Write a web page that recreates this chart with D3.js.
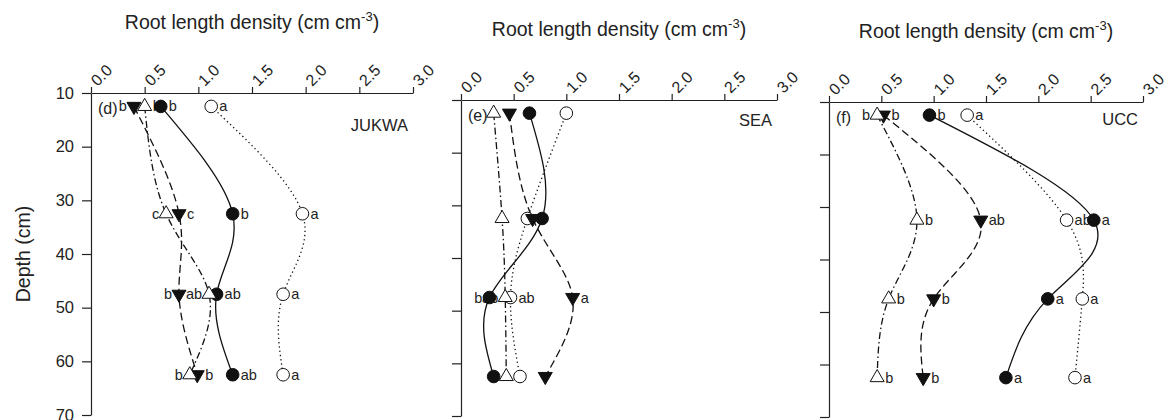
<!DOCTYPE html>
<html>
<head>
<meta charset="utf-8">
<script src="https://cdn.jsdelivr.net/npm/d3@7"></script>
<style>
  body { margin: 0; background: #fff; }
  svg text { font-family: "Liberation Sans", Arial, sans-serif; fill: #222; }
</style>
</head>
<body>
<svg id="grafico" width="1171" height="420"></svg>
<script>
// profundidades (cm) e eixos
const depths = [12.5, 32.5, 47.5, 62.5];
const xTicks = [0, 0.5, 1.0, 1.5, 2.0, 2.5, 3.0];
const yTicks = [10, 20, 30, 40, 50, 60, 70];
const sites = ["JUKWA", "SEA", "UCC"];
const panelTags = ["(d)", "(e)", "(f)"];

// JUKWA
const jukwaFilledCircle = [0.65, 1.32, 1.17, 1.32];
const jukwaOpenCircle   = [1.12, 1.97, 1.79, 1.79];
const jukwaFilledTri    = [0.40, 0.82, 0.82, 0.99];
const jukwaOpenTri      = [0.50, 0.70, 1.10, 0.92];
const jukwaFilledCircleLetters = ["b", "b", "ab", "ab"];
const jukwaOpenCircleLetters   = ["a", "a", "a", "a"];
const jukwaFilledTriLetters    = ["b", "c", "b", "b"];
const jukwaOpenTriLetters      = ["b", "c", "ab", "b"];

// SEA
const seaFilledCircle = [0.65, 0.77, 0.27, 0.31];
const seaOpenCircle   = [1.00, 0.63, 0.47, 0.56];
const seaFilledTri    = [0.46, 0.68, 1.06, 0.80];
const seaOpenTri      = [0.31, 0.39, 0.42, 0.43];
const seaFilledCircleLetters = ["", "", "b", ""];
const seaOpenCircleLetters   = ["", "", "ab", ""];
const seaFilledTriLetters    = ["", "", "a", ""];
const seaOpenTriLetters      = ["", "", "ab", ""];

// UCC
const uccFilledCircle = [0.96, 2.53, 2.09, 1.69];
const uccOpenCircle   = [1.32, 2.27, 2.42, 2.35];
const uccFilledTri    = [0.52, 1.45, 1.00, 0.90];
const uccOpenTri      = [0.46, 0.84, 0.57, 0.46];
const uccFilledCircleLetters = ["b", "a", "a", "a"];
const uccOpenCircleLetters   = ["a", "ab", "a", "a"];
const uccFilledTriLetters    = ["b", "ab", "b", "b"];
const uccOpenTriLetters      = ["b", "b", "b", "b"];

const values = [
  [jukwaFilledCircle, jukwaOpenCircle, jukwaFilledTri, jukwaOpenTri],
  [seaFilledCircle, seaOpenCircle, seaFilledTri, seaOpenTri],
  [uccFilledCircle, uccOpenCircle, uccFilledTri, uccOpenTri]
];
const letters = [
  [jukwaFilledCircleLetters, jukwaOpenCircleLetters, jukwaFilledTriLetters, jukwaOpenTriLetters],
  [seaFilledCircleLetters, seaOpenCircleLetters, seaFilledTriLetters, seaOpenTriLetters],
  [uccFilledCircleLetters, uccOpenCircleLetters, uccFilledTriLetters, uccOpenTriLetters]
];

// layout (pixels) -----------------------------------------------------
const panels = [
  {x0: 91,  y0: 93,  w: 322, h: 322, siteDy: 38},
  {x0: 461, y0: 100, w: 316, h: 316, siteDy: 26},
  {x0: 829, y0: 102, w: 314, h: 315, siteDy: 23}
];
// estilo de cada série: circulo cheio, circulo vazio, triangulo cheio, triangulo vazio
const seriesStyle = [
  {dash: null,            symbol: "circle", fill: "#111"},
  {dash: "1.3,3",         symbol: "circle", fill: "#fff"},
  {dash: "8,4",           symbol: "down",   fill: "#111"},
  {dash: "7,3,1.5,3",     symbol: "up",     fill: "#fff"}
];
// letras que ficam a esquerda do marcador: "painel-serie-indice"
const leftLabels = new Set(["0-2-0", "0-3-1", "0-2-2", "0-3-2", "0-3-3", "1-0-2", "1-3-2", "2-3-0"]);

const svg = d3.select("#grafico");
svg.append("style").text(".ax .domain, .ax line {stroke:#222; stroke-width:1.2px;}");

panels.forEach(function(p, pi) {
  const x = d3.scaleLinear().domain([0, 3]).range([p.x0, p.x0 + p.w]);
  const y = d3.scaleLinear().domain([10, 70]).range([p.y0, p.y0 + p.h]);

  // eixo Y
  const yAxis = d3.axisLeft(y).tickValues(yTicks).tickSize(9).tickPadding(8).tickSizeOuter(0);
  const gy = svg.append("g").attr("class", "ax")
    .attr("transform", "translate(" + p.x0 + ",0)")
    .call(yAxis);
  gy.selectAll("text").style("font-size", "16.5px").style("font-family", "Liberation Sans, Arial")
    .attr("fill", "#222");
  if (pi > 0) gy.selectAll("text").remove();

  // eixo X (no topo)
  const xAxis = d3.axisTop(x).tickValues(xTicks).tickSize(6).tickSizeOuter(0).tickFormat(d3.format(".1f"));
  const gx = svg.append("g").attr("class", "ax")
    .attr("transform", "translate(0," + p.y0 + ")")
    .call(xAxis);
  gx.selectAll("text")
    .attr("x", 0).attr("y", 0).attr("dy", 0)
    .attr("text-anchor", "start")
    .attr("transform", "translate(6,-6) rotate(-45)")
    .style("font-size", "16px").style("font-family", "Liberation Sans, Arial")
    .attr("fill", "#222");

  // titulo
  const t = svg.append("text")
    .attr("x", p.x0 + p.w / 2)
    .attr("y", p.y0 - 64)
    .attr("text-anchor", "middle")
    .style("font-size", "19.5px");
  t.append("tspan").text("Root length density (cm cm");
  t.append("tspan").attr("dy", "-8").style("font-size", "13px").text("-3");
  t.append("tspan").attr("dy", "8").text(")");

  svg.append("text").attr("x", p.x0 + 7).attr("y", p.y0 + 21)
    .style("font-size", "16px").text(panelTags[pi]);
  svg.append("text").attr("x", p.x0 + p.w - 5).attr("y", p.y0 + p.siteDy)
    .attr("text-anchor", "end").style("font-size", "16.5px").text(sites[pi]);

  const line = d3.line()
    .x(function(d) { return x(d.v); })
    .y(function(d) { return y(d.depth); })
    .curve(d3.curveNatural);

  // linhas
  values[pi].forEach(function(serie, si) {
    const pts = serie.map(function(v, i) { return {v: v, depth: depths[i]}; });
    svg.append("path")
      .datum(pts)
      .attr("d", line)
      .attr("fill", "none")
      .attr("stroke", "#111")
      .attr("stroke-width", 1.3)
      .attr("stroke-dasharray", seriesStyle[si].dash);
  });

  // letras
  letters[pi].forEach(function(serie, si) {
    serie.forEach(function(txt, i) {
      if (!txt) return;
      const left = leftLabels.has(pi + "-" + si + "-" + i);
      svg.append("text")
        .attr("x", x(values[pi][si][i]) + (left ? -7 : 8))
        .attr("y", y(depths[i]) + 5)
        .attr("text-anchor", left ? "end" : "start")
        .style("font-size", "14.5px")
        .text(txt);
    });
  });

  // marcadores
  values[pi].forEach(function(serie, si) {
    const st = seriesStyle[si];
    serie.forEach(function(v, i) {
      const cx = x(v), cy = y(depths[i]);
      if (st.symbol === "circle") {
        svg.append("circle").attr("cx", cx).attr("cy", cy).attr("r", 6.3)
          .attr("fill", st.fill).attr("stroke", "#111").attr("stroke-width", 1);
      } else {
        svg.append("path")
          .attr("d", d3.symbol().type(d3.symbolTriangle).size(85)())
          .attr("transform", "translate(" + cx + "," + cy + ")" + (st.symbol === "down" ? " rotate(180)" : ""))
          .attr("fill", st.fill).attr("stroke", "#111").attr("stroke-width", 1);
      }
    });
  });
});

// titulo do eixo Y
svg.append("text")
  .attr("transform", "translate(30,254) rotate(-90)")
  .attr("text-anchor", "middle")
  .style("font-size", "19.5px")
  .text("Depth (cm)");
</script>
</body>
</html>
